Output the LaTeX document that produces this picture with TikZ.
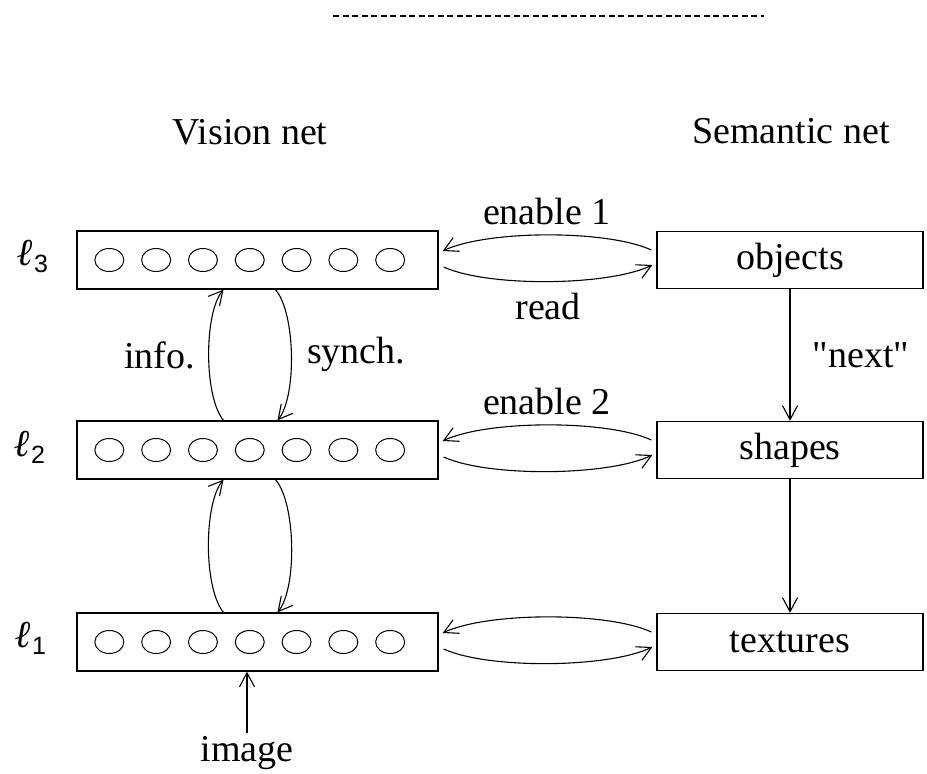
\documentclass[tikz,border=0pt]{standalone}
\usepackage{fontspec}
\setmainfont{Liberation Serif}
\newfontfamily\subfont{Liberation Sans}
\usetikzlibrary{calc}
\usetikzlibrary{arrows.meta}

\newcommand{\bigtext}{\fontsize{38}{44}\selectfont}
\newcommand{\levelname}[1]{{\bfseries\itshape ℓ}\raisebox{-7pt}{\subfont\fontsize{25}{28}\selectfont #1}}

\tikzset{
  layer/.style={draw, line width=1.3pt, minimum width=361pt, minimum height=58pt, inner sep=0pt},
  concept/.style={draw, line width=1.3pt, minimum width=266pt, minimum height=57pt, inner sep=0pt},
  link/.style={->, line width=1.1pt},
  unit/.style={line width=1pt}
}

\begin{document}
\begin{tikzpicture}[x=1pt,y=1pt,font=\bigtext,>={Straight Barb[length=14pt,width=15pt]}]
			\useasboundingbox (0,0) rectangle (927,-774);
			\draw[line width=2pt, dash pattern=on 6pt off 3.5pt] (333,-16) -- (764,-16);
			\node (vtitle) at (250,-132) {Vision net};
			\node (stitle) at (791,-131) {Semantic net};
			% vision layers
			\node[layer] (v3) at (257.5,-260) {};
			\node[layer] (v2) at (257.5,-450) {};
			\node[layer] (v1) at (257.5,-642) {};
			\foreach \i in {1,2,3}
				\foreach \j in {0,...,6}
					\draw[unit] ($(v\i.west)+(33+46.8*\j,0)$) ellipse (14.5 and 11.5);
			\node (l3) at (33,-256) {\levelname{3}};
			\node (l2) at (30,-447) {\levelname{2}};
			\node (l1) at (31,-638) {\levelname{1}};
			% semantic net
			\node[concept] (s3) at (790,-260) {objects};
			\node[concept] (s2) at (790,-450) {shapes};
			\node[concept] (s1) at (790,-642) {textures};
			\draw[link] (s3) -- node[right=19pt] {\textquotedbl next\textquotedbl} (s2);
			\draw[link] (s2) -- (s1);
			% vision <-> semantic
			\draw[link] ($(s3.west)+(-5,10)$) to[bend right=25, looseness=0.6] node[above=6pt] {enable 1} ($(v3.east)+(4,9)$);
			\draw[link] ($(v3.east)+(5,-7)$) to[bend right=25, looseness=0.6] node[below=8pt] {read} ($(s3.west)+(-4,-5)$);
			\draw[link] ($(s2.west)+(-5,10)$) to[bend right=25, looseness=0.6] node[above=6pt] {enable 2} ($(v2.east)+(4,9)$);
			\draw[link] ($(v2.east)+(5,-7)$) to[bend right=25, looseness=0.6] ($(s2.west)+(-4,-5)$);
			\draw[link] ($(s1.west)+(-5,10)$) to[bend right=25, looseness=0.6] ($(v1.east)+(4,9)$);
			\draw[link] ($(v1.east)+(5,-7)$) to[bend right=25, looseness=0.6] ($(s1.west)+(-4,-5)$);
			% between layers
			\draw[link] ($(v2.north)+(-34,0)$) to[bend left=40, looseness=0.6] node[left=10pt] {info.} ($(v3.south)+(-34,0)$);
			\draw[link] ($(v3.south)+(18,0)$) to[bend left=40, looseness=0.6] node[right=12pt] {synch.} ($(v2.north)+(20,0)$);
			\draw[link] ($(v1.north)+(-34,0)$) to[bend left=40, looseness=0.6] ($(v2.south)+(-34,0)$);
			\draw[link] ($(v2.south)+(18,0)$) to[bend left=40, looseness=0.6] ($(v1.north)+(20,0)$);
			% input
			\node (image) at (247,-753) {image};
			\draw[link] (image) -- (image |- v1.south);
		\end{tikzpicture}
\end{document}
